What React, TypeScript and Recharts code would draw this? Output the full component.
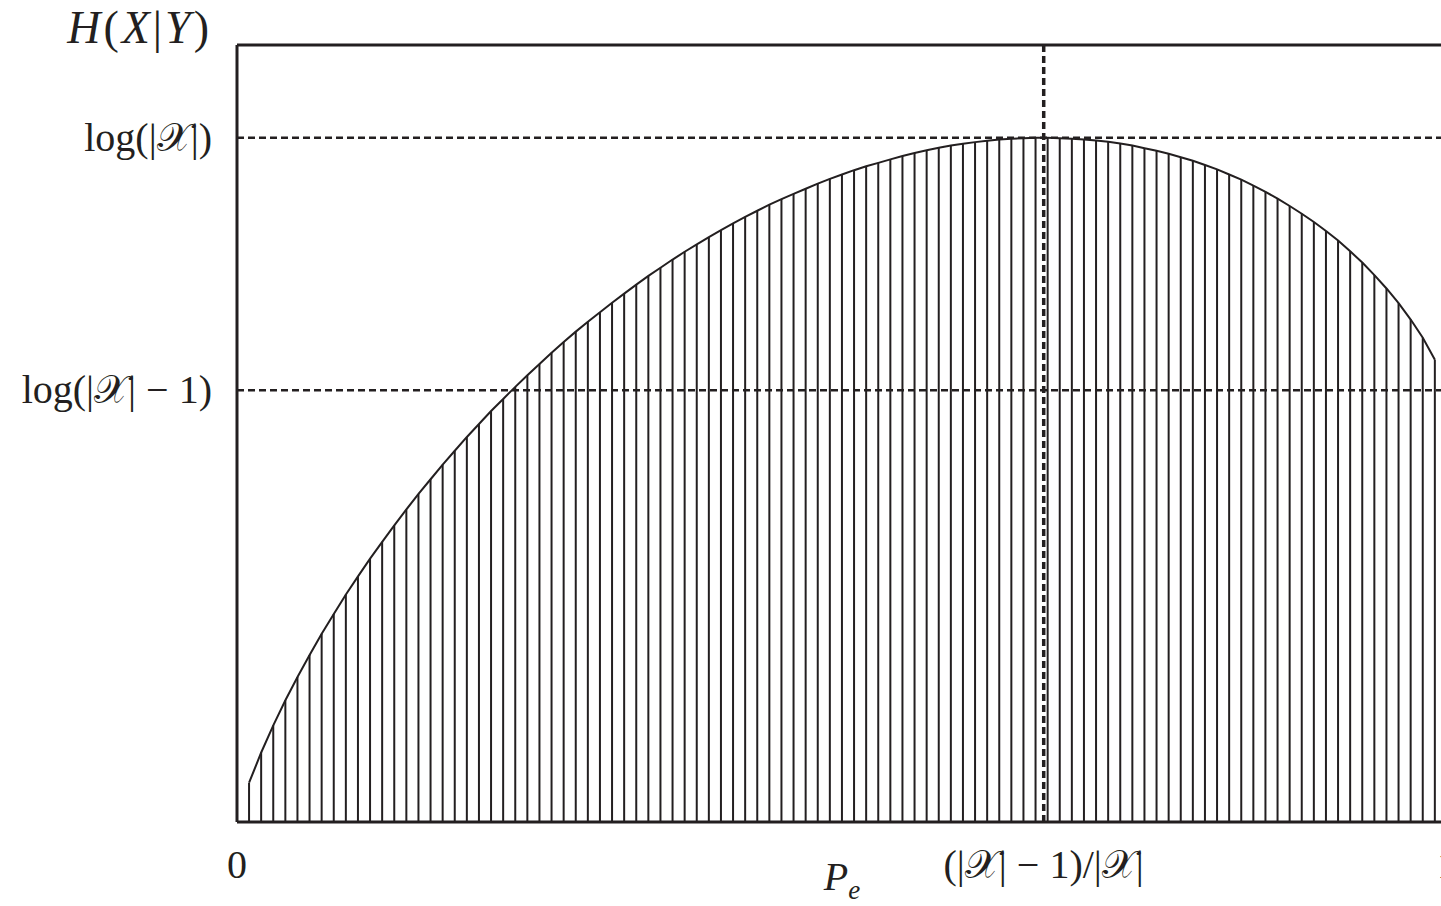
import React from 'react'
import {
  ComposedChart,
  Bar,
  Line,
  XAxis,
  YAxis,
  ReferenceLine,
} from 'recharts'

// error probability samples (hatching positions)
const pe = [
  0.01, 0.02, 0.03, 0.04, 0.05, 0.06, 0.07, 0.08, 0.09, 0.1,
  0.11, 0.12, 0.13, 0.14, 0.15, 0.16, 0.17, 0.18, 0.19, 0.2,
  0.21, 0.22, 0.23, 0.24, 0.25, 0.26, 0.27, 0.28, 0.29, 0.3,
  0.31, 0.32, 0.33, 0.34, 0.35, 0.36, 0.37, 0.38, 0.39, 0.4,
  0.41, 0.42, 0.43, 0.44, 0.45, 0.46, 0.47, 0.48, 0.49, 0.5,
  0.51, 0.52, 0.53, 0.54, 0.55, 0.56, 0.57, 0.58, 0.59, 0.6,
  0.61, 0.62, 0.63, 0.64, 0.65, 0.66, 0.67, 0.68, 0.69, 0.7,
  0.71, 0.72, 0.73, 0.74, 0.75, 0.76, 0.77, 0.78, 0.79, 0.8,
  0.81, 0.82, 0.83, 0.84, 0.85, 0.86, 0.87, 0.88, 0.89, 0.9,
  0.91, 0.92, 0.93, 0.94, 0.95, 0.96, 0.97, 0.98, 0.99,
]

// upper bound on H(X|Y)
const hBound = [
  0.091, 0.161, 0.224, 0.282, 0.336, 0.387, 0.436, 0.482, 0.527, 0.569,
  0.61, 0.649, 0.687, 0.724, 0.76, 0.794, 0.828, 0.86, 0.892, 0.922,
  0.952, 0.98, 1.008, 1.035, 1.061, 1.087, 1.112, 1.136, 1.159, 1.181,
  1.203, 1.224, 1.245, 1.265, 1.284, 1.303, 1.321, 1.338, 1.355, 1.371,
  1.387, 1.402, 1.416, 1.43, 1.443, 1.455, 1.467, 1.479, 1.49, 1.5,
  1.51, 1.519, 1.527, 1.535, 1.543, 1.55, 1.556, 1.562, 1.567, 1.571,
  1.575, 1.578, 1.581, 1.583, 1.584, 1.585, 1.585, 1.584, 1.583, 1.581,
  1.579, 1.576, 1.572, 1.567, 1.561, 1.555, 1.548, 1.54, 1.532, 1.522,
  1.512, 1.5, 1.488, 1.474, 1.46, 1.444, 1.427, 1.409, 1.39, 1.369,
  1.347, 1.322, 1.296, 1.267, 1.236, 1.202, 1.164, 1.122, 1.071,
]

const xTicks = [0, 0.6667, 1]
const xTickLabels = ['0', '(|𝒳| − 1)/|𝒳|', '1']
const yTicks = [1, 1.585]
const yTickLabels = ['log(|𝒳| − 1)', 'log(|𝒳|)']
const yMax = 1.8

const data = pe.map((p, i) => ({ pe: p, h: hBound[i] }))

const FONT = '"Liberation Serif", "DejaVu Serif", serif'
const INK = '#231f20'

const XTick = (props: any) => {
  const { x, y, payload } = props
  const i = xTicks.indexOf(payload.value)
  return (
    <text x={x} y={y} dy={54} textAnchor="middle" fontFamily={FONT} fontSize={40} fill={INK}>
      {xTickLabels[i]}
    </text>
  )
}

const YTick = (props: any) => {
  const { x, y, payload } = props
  const i = yTicks.indexOf(payload.value)
  return (
    <text x={x} y={y} dy={13} textAnchor="end" fontFamily={FONT} fontSize={40} fill={INK}>
      {yTickLabels[i]}
    </text>
  )
}

export default function App() {
  return (
    <div style={{ position: 'fixed', left: 0, top: 0, width: 1441, height: 906, overflow: 'hidden', background: '#fff' }}>
      <ComposedChart
        width={1480}
        height={906}
        data={data}
        margin={{ top: 45, right: 33, left: 0, bottom: 0 }}
      >
        <XAxis
          dataKey="pe"
          type="number"
          domain={[0, 1]}
          ticks={xTicks}
          interval={0}
          height={84}
          tick={<XTick />}
          tickLine={false}
          tickSize={0}
          axisLine={{ stroke: INK, strokeWidth: 3 }}
          label={{
            content: (p: any) => {
              const vb = p.viewBox
              return (
                <text x={vb.x + vb.width / 2} y={vb.y + 68} textAnchor="middle" fontFamily={FONT} fontSize={40} fontStyle="italic" fill={INK}>
                  P<tspan fontSize={27} dy={9}>e</tspan>
                </text>
              )
            },
          }}
        />
        <YAxis
          type="number"
          domain={[0, yMax]}
          ticks={yTicks}
          interval={0}
          width={237}
          tick={<YTick />}
          tickLine={false}
          tickSize={0}
          tickMargin={25}
          axisLine={{ stroke: INK, strokeWidth: 3 }}
          label={{
            content: (p: any) => {
              const vb = p.viewBox
              return (
                <text x={vb.x + vb.width - 25} y={vb.y - 2} textAnchor="end" fontFamily={FONT} fontSize={46} letterSpacing={3} fill={INK}>
                  <tspan fontStyle="italic">H</tspan>(<tspan fontStyle="italic">X</tspan>|<tspan fontStyle="italic">Y</tspan>)
                </text>
              )
            },
          }}
        />
        <Bar dataKey="h" barSize={2} fill={INK} isAnimationActive={false} />
        <Line dataKey="h" type="linear" stroke={INK} strokeWidth={2} dot={false} isAnimationActive={false} />
        <ReferenceLine y={yMax} stroke={INK} strokeWidth={3} />
        <ReferenceLine y={yTicks[1]} stroke={INK} strokeWidth={2.5} strokeDasharray="7 4" />
        <ReferenceLine y={yTicks[0]} stroke={INK} strokeWidth={2.5} strokeDasharray="7 4" />
        <ReferenceLine x={xTicks[1]} stroke={INK} strokeWidth={3.5} strokeDasharray="7 4" />
      </ComposedChart>
    </div>
  )
}
